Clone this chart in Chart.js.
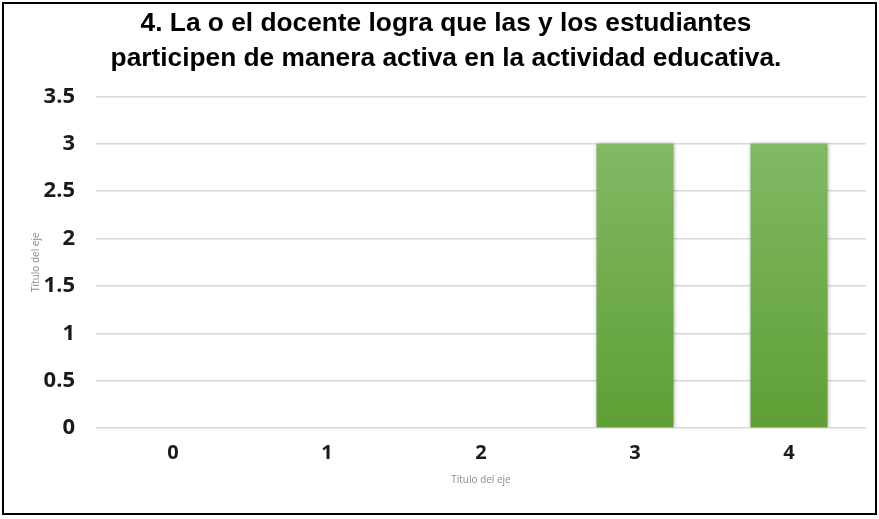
<!DOCTYPE html>
<html>
<head>
<meta charset="utf-8">
<script src="https://cdn.jsdelivr.net/npm/chart.js@4"></script>
<style>
  body { margin: 0; background: #fff; }
  #frame {
    position: absolute; left: 2px; top: 2px;
    width: 871px; height: 509px;
    border: 2px solid #000;
    background: #fff;
  }
  #chartBox { position: absolute; left: 0; top: 0; width: 871px; height: 509px; }
</style>
</head>
<body>
<div id="frame"><div id="chartBox"><canvas id="chart"></canvas></div></div>
<script>
// --- datos del gráfico ---
const categorias = ['0', '1', '2', '3', '4'];
const valores = [0, 0, 0, 3, 3];
const yTicks = [0, 0.5, 1, 1.5, 2, 2.5, 3, 3.5];
const titulo = ['4. La o el docente logra que las y los estudiantes',
                'participen de manera activa en la actividad educativa.'];

// sombra suave detrás de las barras
const sombraBarras = {
    id: 'sombraBarras',
    beforeDatasetsDraw(chart) {
        const c = chart.ctx;
        c.save();
        c.shadowColor = 'rgba(0,0,0,0.35)';
        c.shadowBlur = 4;
        c.shadowOffsetX = 0;
        c.shadowOffsetY = 0;
    },
    afterDatasetsDraw(chart) {
        chart.ctx.restore();
    }
};

function degradado(context) {
    const chart = context.chart;
    const area = chart.chartArea;
    if (!area) return '#70ad47';
    const y = chart.scales.y;
    const g = chart.ctx.createLinearGradient(0, y.getPixelForValue(3), 0, y.getPixelForValue(0));
    g.addColorStop(0, '#81b964');
    g.addColorStop(1, '#5f9f35');
    return g;
}

const ctx = document.getElementById('chart').getContext('2d');
new Chart(ctx, {
    type: 'bar',
    data: {
        labels: categorias,
        datasets: [{
            data: valores,
            backgroundColor: degradado,
            borderWidth: 0,
            barPercentage: 0.5,
            categoryPercentage: 1.0
        }]
    },
    options: {
        responsive: true,
        maintainAspectRatio: false,
        animation: false,
        layout: { padding: { top: 3, right: 9, bottom: 23, left: 22 } },
        plugins: {
            legend: { display: false },
            tooltip: { enabled: false },
            title: {
                display: true,
                text: titulo,
                color: '#000',
                font: { family: '"Liberation Sans", Arial', size: 26.3, weight: 'bold', lineHeight: 1.3 },
                padding: { top: 0, bottom: 21 }
            }
        },
        scales: {
            x: {
                grid: { display: false },
                border: { display: false },
                ticks: { color: '#1a1a1a', font: { family: '"Open Sans"', size: 20, weight: 'bold' }, padding: 5 },
                title: { display: true, text: 'Título del eje', color: '#8c8c8c', font: { family: '"Open Sans"', size: 10 }, padding: { top: 4 } }
            },
            y: {
                min: 0,
                max: 3.5,
                afterBuildTicks(scale) { scale.ticks = yTicks.map(v => ({ value: v })); },
                afterFit(scale) { scale.width = 70; },
                grid: { color: '#d9d9d9', lineWidth: 1.5, drawTicks: false },
                border: { display: false },
                ticks: {
                    color: '#1a1a1a',
                    font: { family: '"Open Sans"', size: 22, weight: 'bold' },
                    padding: 21,
                    callback: v => String(v)
                },
                title: { display: true, text: 'Título del eje', color: '#8c8c8c', font: { family: '"Open Sans"', size: 10 }, padding: { bottom: 4 } }
            }
        }
    },
    plugins: [sombraBarras]
});
</script>
</body>
</html>
